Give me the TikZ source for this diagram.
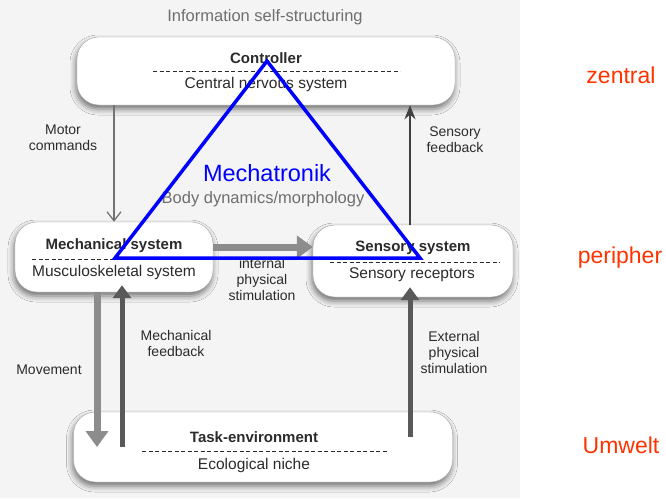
\documentclass[tikz,border=0pt]{standalone}
\usepackage{fontspec}
\setmainfont{Liberation Sans}
\usetikzlibrary{arrows.meta, positioning, shadows.blur}
\definecolor{scanink}{HTML}{2B2B2B}
\definecolor{scangray}{HTML}{6E6E6E}
\definecolor{scanbg}{HTML}{F4F4F4}
\definecolor{mechablue}{HTML}{0000FF}
\definecolor{levelred}{HTML}{FF3300}

\begin{document}
\begin{tikzpicture}[
    x=1pt, y=-1pt,
    box/.style={draw=black!35, rounded corners=22pt, fill=white, blur shadow={shadow xshift=-1pt, shadow yshift=-4pt, shadow blur radius=6pt, shadow opacity=55}},
    boxtitle/.style={font=\bfseries\fontsize{15}{17}\selectfont, color=scanink},
    boxsub/.style={font=\fontsize{15.5}{17}\selectfont, color=scanink},
    sep/.style={color=scanink, dash pattern=on 4pt off 2.5pt, line width=0.7pt},
    lab/.style={font=\fontsize{14}{16}\selectfont, color=scanink, align=center},
    faint/.style={font=\fontsize{16.5}{18}\selectfont, color=scangray},
    level/.style={font=\fontsize{23}{25}\selectfont, color=levelred},
    thinarr/.style={draw=black!55, line width=1.3pt, -{Straight Barb[length=9pt, width=14pt]}},
    darkarr/.style={draw=black!75, line width=2.6pt, -{Stealth[length=14pt, width=11pt]}},
    grayarr/.style={draw=black!45, line width=7pt, -{Triangle[length=16pt, width=22pt]}},
    feedarr/.style={draw=black!65, line width=5pt, -{Triangle[length=13pt, width=18pt]}},
    mecha/.style={draw=mechablue, line width=3.5pt, line join=miter},
]
\useasboundingbox (0,0) rectangle (666,498);
\fill[scanbg] (0,0) rectangle (520,498);

% Controller
\node[box, minimum width=378pt, minimum height=68pt] (ctrl) at (266,71) {};
\node[faint] (info) at (265,17) {Information self-structuring};
\node[boxtitle] (ctrltitle) at (266,58) {Controller};
\draw[sep] (153,71) -- (400,71);
\node[boxsub] (ctrlsub) at (266,84) {Central nervous system};

% Mechanical system
\node[box, minimum width=198pt, minimum height=70pt] (mech) at (114,257) {};
\node[boxtitle] (mechtitle) at (114,246) {Mechanical system};
\draw[sep] (32,259) -- (200,259);
\node[boxsub] (mechsub) at (114,272) {Musculoskeletal system};

% Sensory system
\node[box, minimum width=200pt, minimum height=72pt] (sens) at (413,261) {};
\node[boxtitle] (senstitle) at (413,248) {Sensory system};
\draw[sep] (330,262) -- (500,262);
\node[boxsub] (senssub) at (412,275) {Sensory receptors};

% Task-environment
\node[box, minimum width=379pt, minimum height=70pt] (task) at (263,447) {};
\node[boxtitle] (tasktitle) at (254,437) {Task-environment};
\draw[sep] (142,451) -- (388,451);
\node[boxsub] (tasksub) at (254,465) {Ecological niche};

\node[faint] (body) at (263,199) {Body dynamics/morphology};

% Connections
\coordinate (movetop) at ([xshift=-17pt]mech.south);
\coordinate (mfeedtip) at ([xshift=8pt, yshift=7pt]mech.south);
\coordinate (exttip) at ([xshift=-3pt, yshift=10pt]sens.south);
\coordinate (intstart) at ([yshift=10pt]mech.east);
\draw[thinarr] (ctrl.south -| mech.north) -- (mech.north);
\draw[darkarr] ([xshift=-3pt]sens.north) -- ([xshift=-3pt]sens.north |- ctrl.south);
\draw[grayarr] (intstart) -- (intstart -| sens.west);
\draw[grayarr] (movetop) -- (movetop |- task.center);
\draw[feedarr] (mfeedtip |- task.center) -- (mfeedtip);
\draw[feedarr] ([yshift=10pt]exttip |- task.center) -- (exttip);

\node[lab] (motorlab) at (63,138) {Motor\\commands};
\node[lab] (sfeedlab) at (455,140) {Sensory\\feedback};
\node[lab] (intlab) at (262,279) {internal\\physical\\stimulation};
\node[lab] (movelab) at (49,370) {Movement};
\node[lab] (mfeedlab) at (176,343) {Mechanical\\feedback};
\node[lab] (extlab) at (454,352) {External\\physical\\stimulation};

% Mechatronik
\coordinate (apex) at (267,61);
\coordinate (leftc) at (115,258);
\coordinate (rightc) at (420,258);
\draw[mecha] (apex) -- (leftc) -- (rightc) -- cycle;
\node[font=\fontsize{23.5}{26}\selectfont, color=mechablue] (mechatronik) at (267,173) {Mechatronik};

% Levels
\node[level] (zentral) at (621,75) {zentral};
\node[level] (peripher) at (620,258) {peripher};
\node[level] (umwelt) at (621,445) {Umwelt};

\end{tikzpicture}
\end{document}
